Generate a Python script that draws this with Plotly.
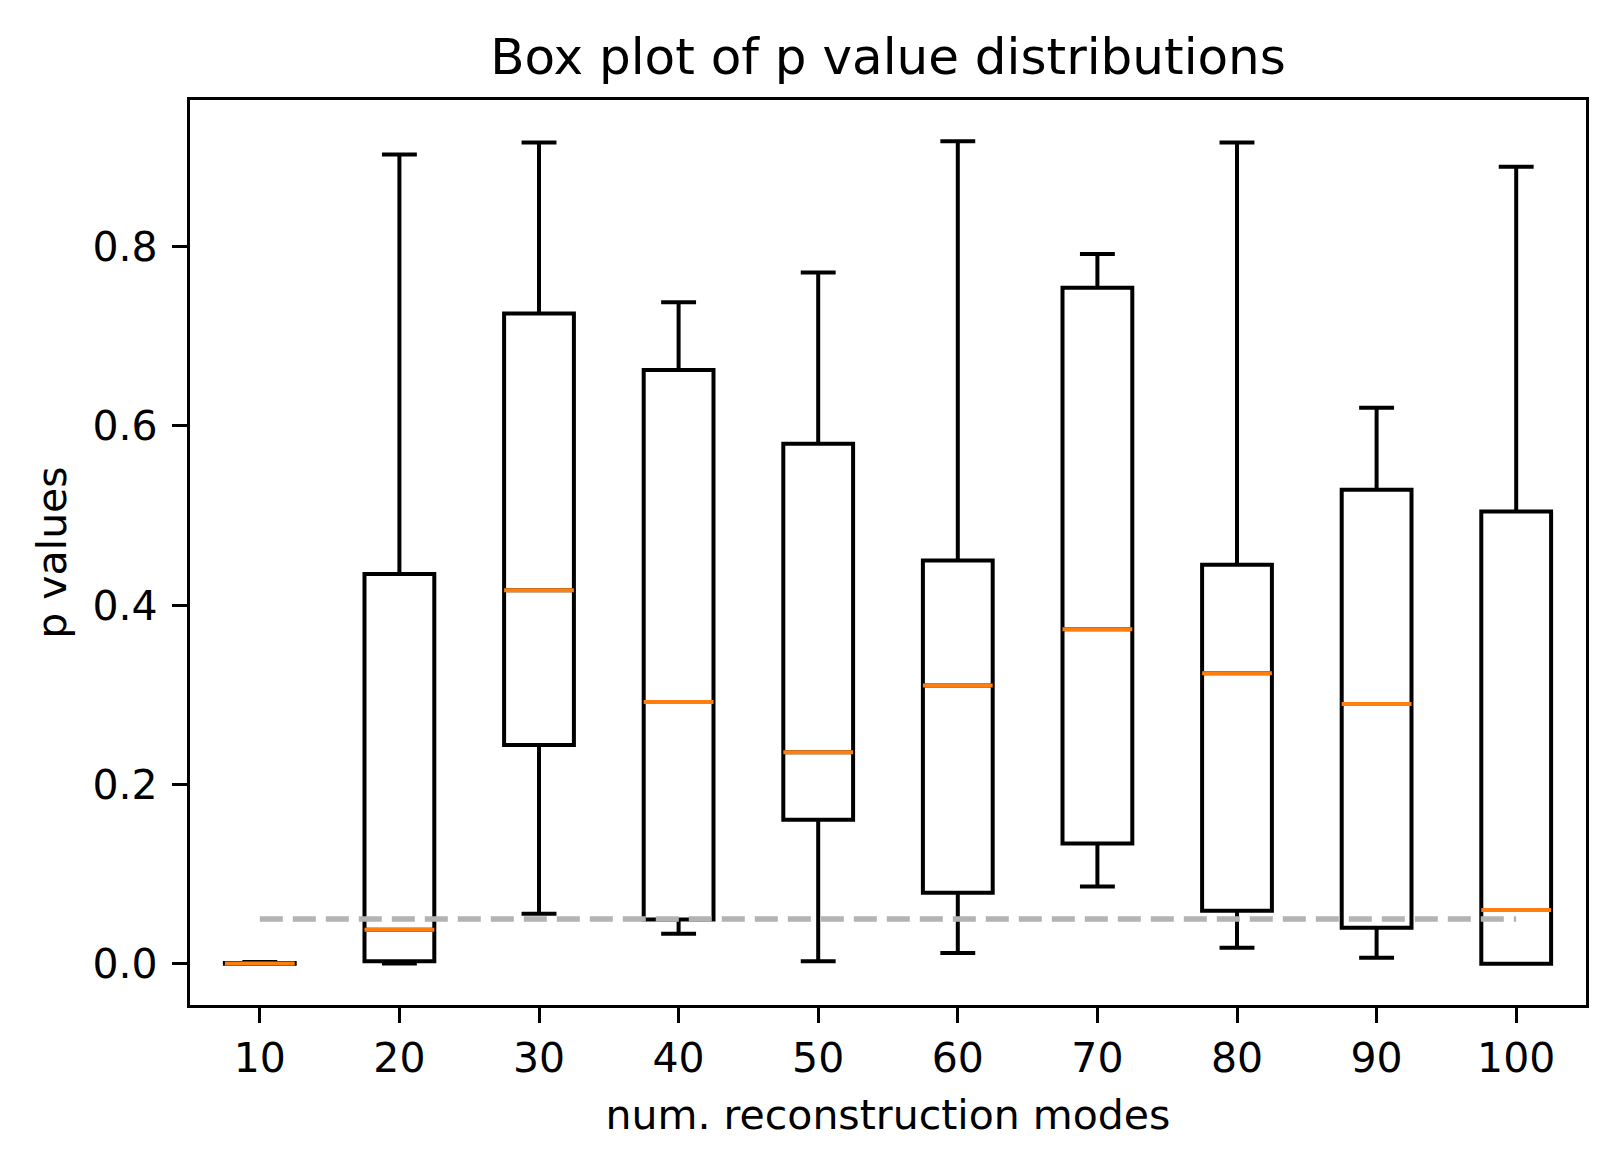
import plotly.graph_objects as go

# ---- data ----
categories = ["10", "20", "30", "40", "50", "60", "70", "80", "90", "100"]
positions = [1, 2, 3, 4, 5, 6, 7, 8, 9, 10]
lower_whisker = [0.0, 0.0005, 0.0559, 0.0337, 0.003, 0.012, 0.0863, 0.018, 0.0068, 0.0]
q1_values = [0.0, 0.0028, 0.244, 0.0495, 0.1606, 0.0794, 0.1343, 0.0592, 0.0403, 0.0]
median_values = [0.0005, 0.038, 0.4166, 0.2921, 0.236, 0.3103, 0.3732, 0.3241, 0.2897, 0.060]
q3_values = [0.001, 0.4349, 0.7252, 0.6624, 0.580, 0.4498, 0.7539, 0.4452, 0.5287, 0.5046]
upper_whisker = [0.002, 0.9025, 0.9161, 0.7378, 0.771, 0.9173, 0.7916, 0.9161, 0.6201, 0.889]
threshold = 0.05
y_ticks = [0.0, 0.2, 0.4, 0.6, 0.8]

BOX_W = 0.5
FONT = "DejaVu Sans"

fig = go.Figure()

fig.add_trace(go.Box(
    x=positions,
    q1=q1_values,
    median=median_values,
    q3=q3_values,
    lowerfence=lower_whisker,
    upperfence=upper_whisker,
    width=BOX_W,
    whiskerwidth=0.5,
    boxpoints=False,
    line=dict(color="black", width=4),
    fillcolor="rgba(255,255,255,0)",
    showlegend=False,
    hoverinfo="skip",
))

# orange median lines
mx, my = [], []
for p, m in zip(positions, median_values):
    mx += [p - BOX_W / 2, p + BOX_W / 2, None]
    my += [m, m, None]
fig.add_trace(go.Scatter(
    x=mx, y=my, mode="lines",
    line=dict(color="#ff7f0e", width=4),
    showlegend=False, hoverinfo="skip",
))

# significance threshold
fig.add_trace(go.Scatter(
    x=[positions[0], positions[-1]], y=[threshold, threshold], mode="lines",
    line=dict(color="#b3b3b3", width=5.5, dash="23px,10px"),
    showlegend=False, hoverinfo="skip",
))

axis_common = dict(
    showline=True, linecolor="black", linewidth=3.3, mirror=True,
    ticks="outside", ticklen=15, tickwidth=3.3, tickcolor="black",
    showgrid=False, zeroline=False,
    tickfont=dict(family=FONT, size=41, color="black"),
)

fig.update_layout(
    width=1607, height=1154,
    margin=dict(l=182, r=29, t=92, b=157),
    paper_bgcolor="white", plot_bgcolor="white",
    font=dict(family=FONT, color="black"),
    title=dict(
        text="Box plot of p value distributions",
        font=dict(family=FONT, size=50, color="black"),
        x=0.5, xref="paper", xanchor="center",
        y=1 - 66 / 1154, yref="container", yanchor="bottom",
    ),
    xaxis=dict(
        range=[0.5, 10.5],
        tickmode="array", tickvals=positions, ticktext=categories,
        title=dict(text="num. reconstruction modes",
                   font=dict(family=FONT, size=41, color="black"), standoff=19),
        **axis_common,
    ),
    yaxis=dict(
        range=[-0.0459, 0.9634],
        tickmode="array", tickvals=y_ticks, tickformat=".1f",
        ticklabelstandoff=6,
        title=dict(text="p values",
                   font=dict(family=FONT, size=41, color="black"), standoff=14),
        **axis_common,
    ),
)

fig.write_html("out.html")
